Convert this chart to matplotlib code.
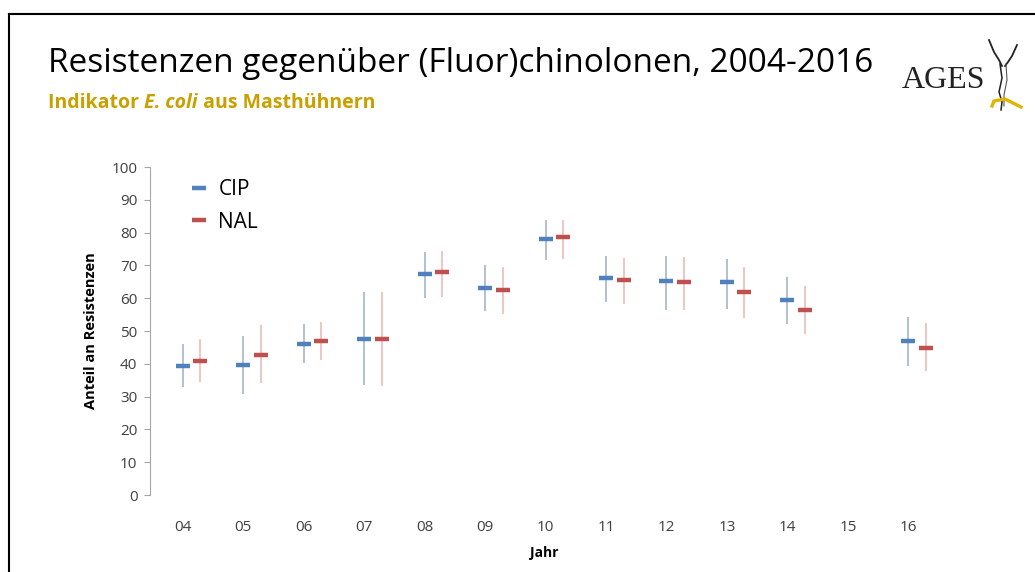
import numpy as np
import matplotlib
matplotlib.use("Agg")
import matplotlib.pyplot as plt
from matplotlib.lines import Line2D

# Daten
jahre = ["04", "05", "06", "07", "08", "09", "10", "11", "12", "13", "14", "15", "16"]
cip = [39.2, 39.5, 46.1, 47.5, 67.4, 63.2, 78.2, 66.3, 65.1, 64.9, 59.6, np.nan, 47.0]
cip_lo = [32.8, 30.8, 40.3, 33.4, 60.1, 56.0, 71.5, 58.7, 56.5, 56.8, 52.1, np.nan, 39.4]
cip_hi = [45.9, 48.6, 52.0, 62.0, 74.1, 70.1, 83.7, 72.9, 72.9, 72.0, 66.6, np.nan, 54.4]
nal = [41.0, 42.7, 47.0, 47.5, 67.9, 62.6, 78.6, 65.6, 65.0, 62.0, 56.4, np.nan, 44.9]
nal_lo = [34.6, 34.0, 41.2, 33.3, 60.5, 55.2, 71.9, 58.1, 56.4, 53.9, 49.0, np.nan, 37.7]
nal_hi = [47.6, 51.8, 52.8, 62.0, 74.5, 69.4, 84.0, 72.3, 72.7, 69.4, 63.7, np.nan, 52.5]

c_cip = "#4F81BD"
c_nal = "#C0504D"
txt = "#404040"

fig = plt.figure(figsize=(10.35, 5.72), dpi=100)
ax = fig.add_axes([0.1449, 0.1346, 0.762, 0.5734])

x = np.arange(len(jahre))
xn = x + 0.29

cip = np.array(cip); nal = np.array(nal)
ax.errorbar(x, cip, yerr=[cip - np.array(cip_lo), np.array(cip_hi) - cip],
            fmt="none", ecolor="#AEBACD", elinewidth=1.3)
ax.errorbar(xn, nal, yerr=[nal - np.array(nal_lo), np.array(nal_hi) - nal],
            fmt="none", ecolor="#EFC0BF", elinewidth=1.3)
ax.plot(x, cip, ls="none", marker="_", ms=10, mew=3.2, color=c_cip, label="CIP")
ax.plot(xn, nal, ls="none", marker="_", ms=10, mew=3.2, color=c_nal, label="NAL")

ax.set_xlim(-0.54, 12.5)
ax.set_ylim(0, 100)
ax.set_yticks(np.arange(0, 101, 10))
ax.set_xticks(x)
ax.set_xticklabels(jahre)
for s in ["top", "right", "bottom"]:
    ax.spines[s].set_visible(False)
ax.spines["left"].set_color("#A6A6A6")
ax.tick_params(axis="y", length=4, color="#A6A6A6", labelsize=11, labelcolor=txt, pad=5)
ax.tick_params(axis="x", length=0, labelsize=11, labelcolor=txt, pad=18)
for lab in ax.get_xticklabels() + ax.get_yticklabels():
    lab.set_family("Open Sans")

ax.set_ylabel("Anteil an Resistenzen", fontsize=10.5, fontweight="bold", family="Open Sans",
              labelpad=10)
ax.set_xlabel("Jahr", fontsize=10, fontweight="bold", family="Open Sans", labelpad=8)

leg = ax.legend(loc="upper left", bbox_to_anchor=(0.03, 1.02), frameon=False,
                prop={"family": "Open Sans", "size": 15}, handlelength=0.65,
                handletextpad=0.6, labelspacing=0.55, markerscale=1.0)

# Titel
fig.text(48 / 1035, 1 - 72 / 572, "Resistenzen gegenüber (Fluor)chinolonen, 2004-2016",
         fontsize=24, family="Open Sans", color="black", va="baseline")
gold = "#C9A000"
t1 = fig.text(48 / 1035, 1 - 108 / 572, "Indikator ", fontsize=14, fontweight="bold",
              family="Open Sans", color=gold, va="baseline")
fig.canvas.draw()
r = fig.canvas.get_renderer()
bb = t1.get_window_extent(r)
t2 = fig.text(bb.x1 / 1035, 1 - 108 / 572, "E. coli", fontsize=14, fontweight="bold",
              style="italic", family="Open Sans", color=gold, va="baseline")
bb2 = t2.get_window_extent(r)
fig.text(bb2.x1 / 1035, 1 - 108 / 572, " aus Masthühnern", fontsize=14, fontweight="bold",
         family="Open Sans", color=gold, va="baseline")

# Logo
px = lambda v: v / 1035
py = lambda v: 1 - v / 572
fig.text(px(902), py(88), "AGES", fontsize=23, family="Liberation Serif",
         color="#222222", va="baseline")
fig.add_artist(Line2D([px(989), px(994), px(999), px(1002)],
                      [py(40), py(52), py(60), py(66)], color="#222222", lw=1.3))
fig.add_artist(Line2D([px(1017), px(1012), px(1008), px(1005)],
                      [py(45), py(56), py(62), py(66)], color="#222222", lw=1.3))
fig.add_artist(Line2D([px(1000), px(1002), px(999), px(1002), px(1001)],
                      [py(64), py(78), py(92), py(102), py(110)], color="#222222", lw=1.1))
fig.add_artist(Line2D([px(1006), px(1007), px(1004), px(1004)],
                      [py(64), py(80), py(95), py(106)], color="#555555", lw=0.8))
fig.add_artist(Line2D([px(992), px(994), px(1005), px(1021)],
                      [py(106), py(101), py(99), py(107)], color="#E2B400", lw=2.4))

# Rahmen
fig.add_artist(Line2D([px(9), px(1035)], [py(14), py(14)], color="black", lw=1.5))
fig.add_artist(Line2D([px(9), px(9)], [py(14), py(580)], color="black", lw=1.5))

fig.savefig("out.png", dpi=100)
